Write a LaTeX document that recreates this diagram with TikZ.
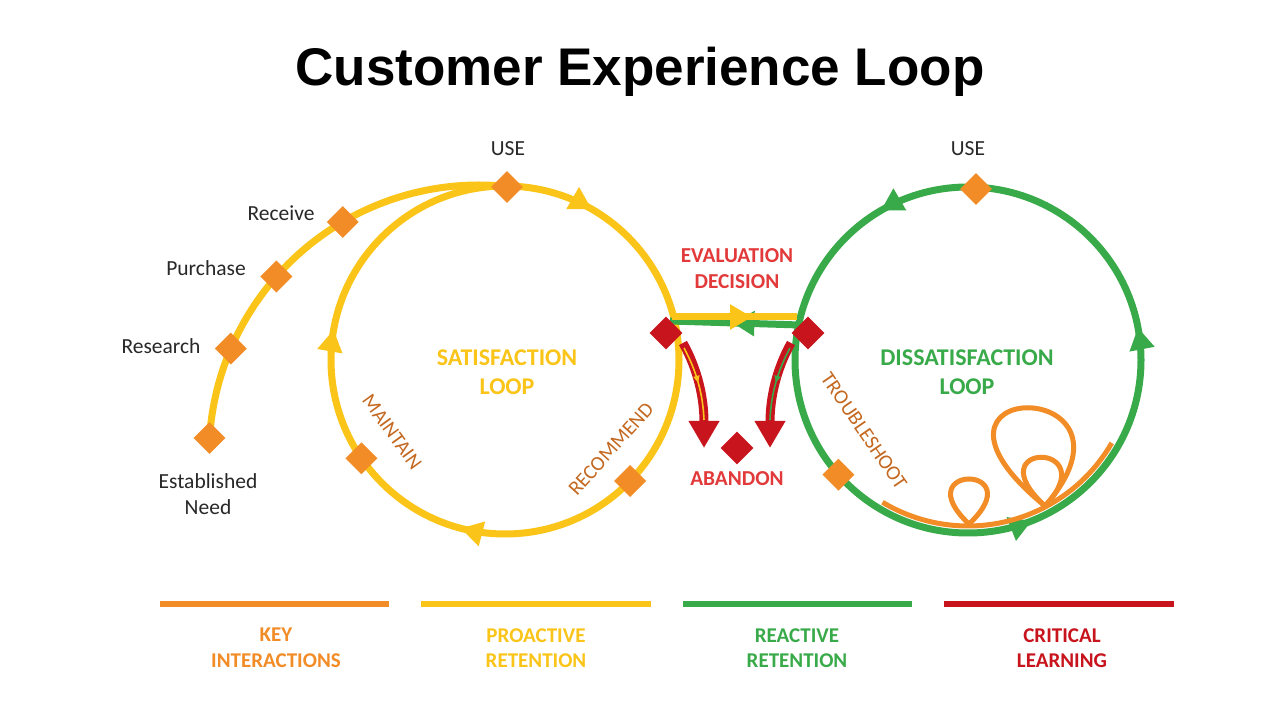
\documentclass[tikz,border=0pt]{standalone}
\usepackage{fontspec}
\setmainfont{Carlito}
\newfontfamily\titlefont{Liberation Sans}
\usetikzlibrary{shapes.geometric,arrows.meta,decorations.markings}
\definecolor{cxorange}{RGB}{242,140,38}
\definecolor{cxyellow}{RGB}{250,196,24}
\definecolor{cxgreen}{RGB}{57,170,73}
\definecolor{cxred}{RGB}{200,20,28}
\definecolor{cxredtext}{RGB}{226,58,58}
\definecolor{cxbrown}{RGB}{196,104,32}
\definecolor{cxtext}{RGB}{40,40,40}
\tikzset{
  cxtip/.tip={Triangle[width=24pt,length=22pt]},
  smalltip/.tip={Triangle[width=6pt,length=7pt]},
  bigtip/.tip={Triangle[width=29pt,length=27pt]},
  loopline/.style={line width=7pt},
  keydia/.style={diamond, fill=cxorange, minimum width=32pt, minimum height=32pt, inner sep=0pt},
  reddia/.style={diamond, fill=cxred, minimum width=33pt, minimum height=33pt, inner sep=0pt},
  plainlbl/.style={font=\fontsize{21.5}{26}\selectfont, text=cxtext, align=center, inner sep=0pt},
  looplbl/.style={font=\bfseries\fontsize{24}{29}\selectfont, align=center, inner sep=0pt},
  redlbl/.style={font=\bfseries\fontsize{21.3}{26}\selectfont, text=cxredtext, align=center, inner sep=0pt},
  steplbl/.style={font=\fontsize{20.5}{24}\selectfont, text=cxbrown, inner sep=0pt},
  legendlbl/.style={font=\bfseries\fontsize{21}{25.5}\selectfont, align=center, inner sep=0pt},
  legendbar/.style={line width=6pt}
}
\begin{document}
\begin{tikzpicture}[x=1pt,y=1pt]
\useasboundingbox (0,0) rectangle (1280,720);
\fill[white] (0,0) rectangle (1280,720);

% title
\node[font=\titlefont\bfseries\fontsize{53}{60}\selectfont, inner sep=0pt] (title) at (640,648) {Customer Experience Loop};

% satisfaction loop (clockwise)
\draw[cxyellow, loopline, postaction={decorate},
  decoration={markings,
    mark=at position 0.291 with {\arrow{cxtip}},
    mark=at position 0.528 with {\arrow{cxtip}},
    mark=at position 0.833 with {\arrow{cxtip}}}]
  (679,360) arc[start angle=360, end angle=0, radius=174];

% dissatisfaction loop (counter-clockwise)
\draw[cxgreen, loopline, postaction={decorate},
  decoration={markings,
    mark=at position 0.030 with {\arrow{cxtip}},
    mark=at position 0.334 with {\arrow{cxtip}},
    mark=at position 0.810 with {\arrow{cxtip}}}]
  (1141,360) arc[start angle=0, end angle=360, radius=173];

% orange troubles inside dissatisfaction loop
\draw[cxorange, line width=5pt] (968,360) ++(239:166) arc[start angle=239, end angle=330, radius=166];
\draw[cxorange, line width=5pt] (969,196) .. controls (1033,256) and (905,256) .. (969,196);
\draw[cxorange, line width=5pt] (1045,214) .. controls (1159,345) and (885,345) .. (1045,214);
\draw[cxorange, line width=5pt] (1045,214) .. controls (1106,279) and (974,279) .. (1045,214);

% key interactions arc
\draw[cxyellow, loopline] (479,265) ++(176.4:270) arc[start angle=176.4, end angle=84, radius=270];

% evaluation links
\coordinate (yA) at (672,403);
\coordinate (yB) at (797,403);
\coordinate (gA) at (800,395);
\coordinate (gB) at (670,399);
\draw[cxgreen, loopline, postaction={decorate},
  decoration={markings, mark=at position 0.52 with {\arrow{cxtip}}}] (gA) -- (gB);
\draw[cxyellow, loopline, postaction={decorate},
  decoration={markings, mark=at position 0.64 with {\arrow{cxtip}}}] (yA) -- (yB);

% red diamonds
\node[reddia] (rdab) at (737,272) {};

% abandon arrows
\coordinate (abl) at (704,272);
\coordinate (abr) at (770,272);
\draw[cxred, line width=9pt, -{bigtip}] (683,377) .. controls (698,350) and (704,322) .. (abl);
\draw[cxred, line width=9pt, -{bigtip}] (791,377) .. controls (776,350) and (770,322) .. (abr);
\draw[cxyellow, line width=1.6pt, postaction={decorate},
  decoration={markings, mark=at position 0.5 with {\arrow{smalltip}}}]
  (684,372) .. controls (697,348) and (703,325) .. (704,300);
\draw[cxgreen, line width=1.6pt, postaction={decorate},
  decoration={markings, mark=at position 0.5 with {\arrow{smalltip}}}]
  (790,372) .. controls (777,348) and (771,325) .. (770,300);
\node[reddia] (rdl) at (666,387) {};
\node[reddia] (rdr) at (808,387) {};

% key interaction diamonds
\node[keydia] (dneed) at (209.5,282) {};
\node[keydia] (dres) at (230.8,371.4) {};
\node[keydia] (dpur) at (276.4,443.5) {};
\node[keydia] (drec) at (342.7,498) {};
\node[keydia] (duse1) at (507,533) {};
\node[keydia] (dmain) at (361.4,261.7) {};
\node[keydia] (dreco) at (630.1,239) {};
\node[keydia] (dtrou) at (838.4,245.3) {};
\node[keydia] (duse2) at (976,531) {};

% labels
\node[plainlbl] (luse1) at (508,571) {USE};
\node[plainlbl] (luse2) at (968,571) {USE};
\node[plainlbl] (lrec) at (281,507) {Receive};
\node[plainlbl] (lpur) at (206,452) {Purchase};
\node[plainlbl] (lres) at (161,374) {Research};
\node[plainlbl] (lneed) at (208,226) {Established\\Need};

\node[looplbl, text=cxyellow] (lsat) at (507,348) {SATISFACTION\\LOOP};
\node[looplbl, text=cxgreen] (ldis) at (967,348) {DISSATISFACTION\\LOOP};
\node[redlbl] (leval) at (737,451) {EVALUATION\\DECISION};
\node[redlbl] (laband) at (737,241) {ABANDON};

\node[steplbl, rotate=-54] (lmain) at (392,288) {MAINTAIN};
\node[steplbl, rotate=48] (lreco) at (611,271) {RECOMMEND};
\node[steplbl, rotate=-55.5] (ltrou) at (864,289) {TROUBLESHOOT};

% legend
\draw[cxorange, legendbar] (160,116) -- (389,116);
\draw[cxyellow, legendbar] (421,116) -- (651,116);
\draw[cxgreen, legendbar] (683,116) -- (912,116);
\draw[cxred, legendbar] (944,116) -- (1174,116);
\node[legendlbl, text=cxorange] (lkey) at (276,72) {KEY\\INTERACTIONS};
\node[legendlbl, text=cxyellow] (lpro) at (536,72) {PROACTIVE\\RETENTION};
\node[legendlbl, text=cxgreen] (lrea) at (797,72) {REACTIVE\\RETENTION};
\node[legendlbl, text=cxred] (lcri) at (1062,72) {CRITICAL\\LEARNING};
\end{tikzpicture}
\end{document}
